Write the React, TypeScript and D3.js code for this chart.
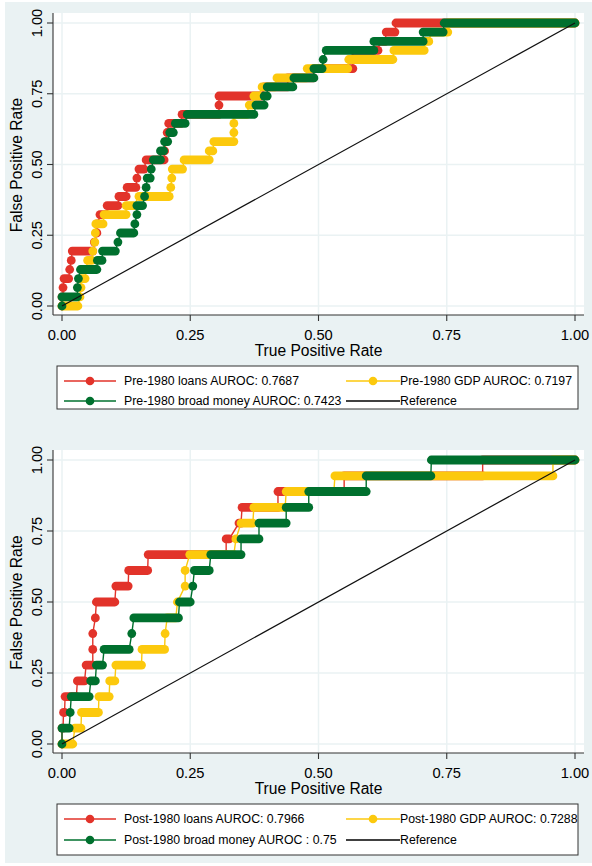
import * as d3 from "d3";

// each run: [fpr from, fpr to, tpr] — a horizontal stretch of overlapping markers
type Run = [number, number, number];

const tickValues = [0, 0.25, 0.5, 0.75, 1];
const tickLabels = ["0.00", "0.25", "0.50", "0.75", "1.00"];

const preLoans: Run[] = [
  [0, 0, 0], [0, 0.002, 0.032], [0.002, 0.002, 0.065], [0.004, 0.013, 0.097],
  [0.015, 0.015, 0.129], [0.018, 0.018, 0.161], [0.02, 0.06, 0.194], [0.063, 0.063, 0.226],
  [0.068, 0.068, 0.258], [0.068, 0.07, 0.29], [0.074, 0.088, 0.323], [0.088, 0.109, 0.355],
  [0.111, 0.125, 0.387], [0.127, 0.144, 0.419], [0.146, 0.146, 0.452], [0.15, 0.16, 0.484],
  [0.164, 0.199, 0.516], [0.2, 0.2, 0.548], [0.202, 0.202, 0.581], [0.205, 0.205, 0.613],
  [0.208, 0.232, 0.645], [0.234, 0.306, 0.677], [0.306, 0.306, 0.71], [0.306, 0.39, 0.742],
  [0.394, 0.44, 0.774], [0.44, 0.49, 0.806], [0.49, 0.567, 0.839], [0.567, 0.567, 0.871],
  [0.567, 0.616, 0.903], [0.62, 0.63, 0.935], [0.632, 0.649, 0.968], [0.651, 1, 1],
];
const preGdp: Run[] = [
  [0, 0.031, 0], [0.035, 0.035, 0.032], [0.037, 0.037, 0.065], [0.037, 0.045, 0.097],
  [0.047, 0.047, 0.129], [0.05, 0.058, 0.161], [0.06, 0.06, 0.194], [0.064, 0.064, 0.226],
  [0.065, 0.065, 0.258], [0.066, 0.08, 0.29], [0.082, 0.125, 0.323], [0.125, 0.14, 0.355],
  [0.15, 0.209, 0.387], [0.212, 0.212, 0.419], [0.214, 0.214, 0.452], [0.215, 0.235, 0.484],
  [0.238, 0.287, 0.516], [0.287, 0.294, 0.548], [0.296, 0.335, 0.581], [0.335, 0.335, 0.613],
  [0.335, 0.335, 0.645], [0.335, 0.36, 0.677], [0.365, 0.372, 0.71], [0.374, 0.384, 0.742],
  [0.39, 0.415, 0.774], [0.419, 0.476, 0.806], [0.478, 0.557, 0.839], [0.559, 0.645, 0.871],
  [0.647, 0.706, 0.903], [0.708, 0.715, 0.935], [0.72, 0.752, 0.968], [0.752, 1, 1],
];
const preMoney: Run[] = [
  [0, 0, 0], [0, 0.03, 0.032], [0.03, 0.03, 0.065], [0.032, 0.032, 0.097],
  [0.036, 0.068, 0.129], [0.069, 0.078, 0.161], [0.079, 0.104, 0.194], [0.109, 0.109, 0.226],
  [0.114, 0.14, 0.258], [0.142, 0.142, 0.29], [0.146, 0.146, 0.323], [0.146, 0.157, 0.355],
  [0.161, 0.161, 0.387], [0.164, 0.164, 0.419], [0.166, 0.172, 0.452], [0.174, 0.174, 0.484],
  [0.178, 0.192, 0.516], [0.192, 0.198, 0.548], [0.2, 0.206, 0.581], [0.21, 0.217, 0.613],
  [0.221, 0.24, 0.645], [0.244, 0.374, 0.677], [0.378, 0.394, 0.71], [0.394, 0.4, 0.742],
  [0.4, 0.45, 0.774], [0.452, 0.491, 0.806], [0.491, 0.507, 0.839], [0.509, 0.509, 0.871],
  [0.515, 0.608, 0.903], [0.608, 0.704, 0.935], [0.704, 0.743, 0.968], [0.745, 1, 1],
];

const postLoans: Run[] = [
  [0, 0, 0], [0, 0.002, 0.056], [0.003, 0.005, 0.111], [0.006, 0.028, 0.167],
  [0.03, 0.044, 0.222], [0.047, 0.06, 0.278], [0.06, 0.06, 0.333], [0.06, 0.06, 0.389],
  [0.065, 0.065, 0.444], [0.067, 0.103, 0.5], [0.105, 0.129, 0.556], [0.13, 0.167, 0.611],
  [0.168, 0.32, 0.667], [0.32, 0.326, 0.722], [0.345, 0.349, 0.778], [0.351, 0.421, 0.833],
  [0.421, 0.55, 0.889], [0.55, 0.82, 0.944], [0.82, 1, 1],
];
const postGdp: Run[] = [
  [0, 0.021, 0], [0.025, 0.037, 0.056], [0.038, 0.071, 0.111], [0.072, 0.092, 0.167],
  [0.093, 0.103, 0.222], [0.105, 0.155, 0.278], [0.156, 0.2, 0.333], [0.201, 0.201, 0.389],
  [0.205, 0.222, 0.444], [0.225, 0.225, 0.5], [0.24, 0.24, 0.556], [0.24, 0.24, 0.611],
  [0.249, 0.335, 0.667], [0.339, 0.339, 0.722], [0.349, 0.372, 0.778], [0.374, 0.435, 0.833],
  [0.437, 0.53, 0.889], [0.532, 0.957, 0.944], [0.957, 1, 1],
];
const postMoney: Run[] = [
  [0, 0, 0], [0, 0.014, 0.056], [0.016, 0.016, 0.111], [0.018, 0.053, 0.167],
  [0.056, 0.065, 0.222], [0.067, 0.079, 0.278], [0.082, 0.131, 0.333], [0.136, 0.136, 0.389],
  [0.14, 0.227, 0.444], [0.229, 0.25, 0.5], [0.255, 0.255, 0.556], [0.258, 0.287, 0.611],
  [0.29, 0.349, 0.667], [0.349, 0.384, 0.722], [0.384, 0.437, 0.778], [0.437, 0.481, 0.833],
  [0.481, 0.593, 0.889], [0.593, 0.719, 0.944], [0.72, 1, 1],
];

const colors = ["#e2332a", "#fcc90d", "#00702e"];
const preLegend = [
  "Pre-1980 loans AUROC: 0.7687",
  "Pre-1980 GDP AUROC: 0.7197",
  "Pre-1980 broad money AUROC: 0.7423",
  "Reference",
];
const postLegend = [
  "Post-1980 loans AUROC: 0.7966",
  "Post-1980 GDP AUROC: 0.7288",
  "Post-1980 broad money AUROC : 0.75",
  "Reference",
];

const FONT = "'Liberation Sans', Arial, Helvetica, sans-serif";
const GRID = "#eaf2f3";

type PanelProps = {
  series: Run[][];
  labels: string[];
  plotTop: number;
  axisY: number;
  yZero: number;
  yOne: number;
  legTop: number;
  legBottom: number;
  rows: [number, number];
};

function Panel({ series, labels, plotTop, axisY, yZero, yOne, legTop, legBottom, rows }: PanelProps) {
  const x = d3.scaleLinear().domain([0, 1]).range([62, 575]);
  const y = d3.scaleLinear().domain([0, 1]).range([yZero, yOne]);
  const left = 53;
  const right = 584;
  const line = d3
    .line<[number, number]>()
    .x((d) => x(d[0]))
    .y((d) => y(d[1]));

  const legendItems = labels.map((t, i) => {
    const col = i % 2;
    const row = Math.floor(i / 2);
    const ly = rows[row];
    const lx0 = col === 0 ? 64 : 346;
    const lx1 = col === 0 ? 116 : 400;
    const tx = col === 0 ? 124 : 400;
    const c = i < 3 ? colors[i] : "#000";
    return (
      <g key={t}>
        <line x1={lx0} x2={lx1} y1={ly} y2={ly} stroke={c} strokeWidth={1.4} />
        {i < 3 && <circle cx={(lx0 + lx1) / 2} cy={ly} r={4.3} fill={c} />}
        <text x={tx} y={ly + 4.4} fontSize={12.3} fontFamily={FONT} fill="#000">
          {t}
        </text>
      </g>
    );
  });

  return (
    <g>
      <rect x={left} y={plotTop} width={right - left} height={axisY - plotTop} fill="#fff" />
      {tickValues.map((v) => (
        <g key={"g" + v}>
          <line x1={left} x2={right} y1={y(v)} y2={y(v)} stroke={GRID} strokeWidth={1.5} />
          <line x1={x(v)} x2={x(v)} y1={plotTop} y2={axisY} stroke={GRID} strokeWidth={1.5} />
        </g>
      ))}
      {series.map((runs, si) => {
        const pts: [number, number][] = runs.flatMap((r) => [
          [r[0], r[2]] as [number, number],
          [r[1], r[2]] as [number, number],
        ]);
        return (
          <g key={"s" + si}>
            <path d={line(pts) ?? ""} fill="none" stroke={colors[si]} strokeWidth={1.4} />
            {runs.map((r, ri) => (
              <line
                key={ri}
                x1={x(r[0])}
                x2={x(r[1])}
                y1={y(r[2])}
                y2={y(r[2])}
                stroke={colors[si]}
                strokeWidth={8.8}
                strokeLinecap="round"
              />
            ))}
          </g>
        );
      })}
      <line x1={x(0)} y1={y(0)} x2={x(1)} y2={y(1)} stroke="#111" strokeWidth={1.2} />
      {/* axes */}
      <line x1={left} x2={left} y1={plotTop} y2={axisY} stroke="#333" strokeWidth={1.1} />
      <line x1={left} x2={right} y1={axisY} y2={axisY} stroke="#333" strokeWidth={1.1} />
      {tickValues.map((v, i) => (
        <g key={"t" + v}>
          <line x1={left - 6} x2={left} y1={y(v)} y2={y(v)} stroke="#333" strokeWidth={1.1} />
          <text
            transform={`translate(42,${y(v)}) rotate(-90)`}
            textAnchor="middle"
            fontSize={14.7}
            fontFamily={FONT}
            fill="#000"
          >
            {tickLabels[i]}
          </text>
          <line x1={x(v)} x2={x(v)} y1={axisY} y2={axisY + 6} stroke="#333" strokeWidth={1.1} />
          <text x={x(v)} y={axisY + 25} textAnchor="middle" fontSize={14.7} fontFamily={FONT} fill="#000">
            {tickLabels[i]}
          </text>
        </g>
      ))}
      <text
        transform={`translate(22,${(plotTop + axisY) / 2 + 1}) rotate(-90)`}
        textAnchor="middle"
        fontSize={15.6}
        fontFamily={FONT}
        fill="#000"
      >
        False Positive Rate
      </text>
      <text x={(left + right) / 2} y={axisY + 40.5} textAnchor="middle" fontSize={15.6} fontFamily={FONT} fill="#000">
        True Positive Rate
      </text>
      <rect x={57} y={legTop} width={521} height={legBottom - legTop} fill="#fff" stroke="#333" strokeWidth={1} />
      {legendItems}
    </g>
  );
}

export default function App() {
  return (
    <svg
      width={592}
      height={866}
      viewBox="0 0 592 866"
      style={{ position: "absolute", left: 0, top: 0, background: "#fff" }}
    >
      <rect x={5} y={2} width={587} height={861} fill={GRID} />
      <Panel
        series={[preLoans, preGdp, preMoney]}
        labels={preLegend}
        plotTop={13}
        axisY={315}
        yZero={306}
        yOne={23}
        legTop={366}
        legBottom={409}
        rows={[381, 401]}
      />
      <Panel
        series={[postLoans, postGdp, postMoney]}
        labels={postLegend}
        plotTop={450}
        axisY={753}
        yZero={744}
        yOne={460}
        legTop={804}
        legBottom={855}
        rows={[819, 840]}
      />
    </svg>
  );
}
